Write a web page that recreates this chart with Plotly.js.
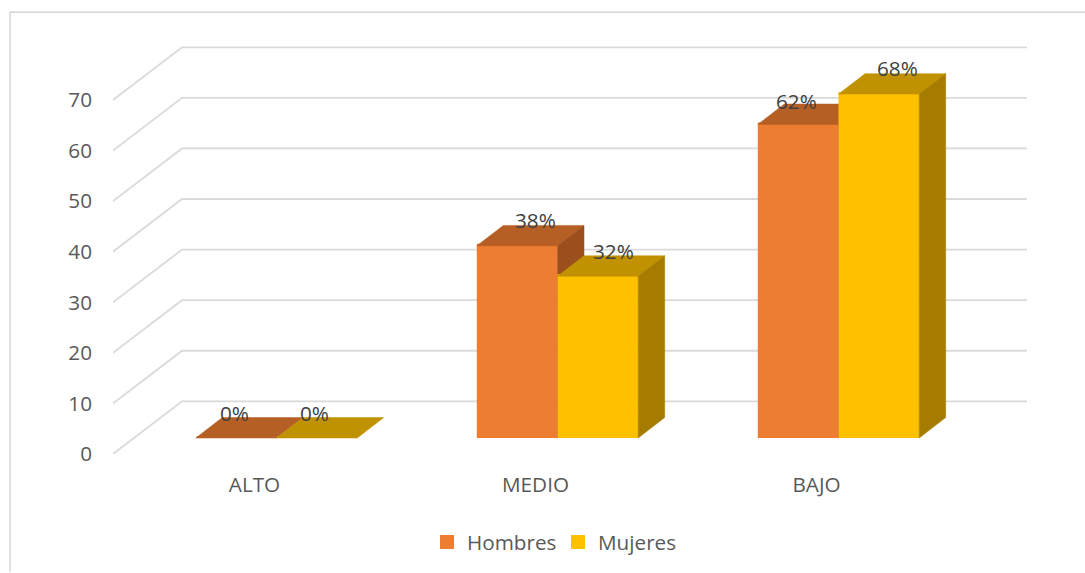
<!DOCTYPE html>
<html>
<head>
<meta charset="utf-8">
<script src="https://cdn.plot.ly/plotly-3.0.1.min.js"></script>
<style>html,body{margin:0;padding:0;background:#fff}#chart{width:1085px;height:573px}</style>
</head>
<body>
<div id="chart"></div>
<script>
// Data
const categories = ['ALTO', 'MEDIO', 'BAJO'];
const hombres = [0, 38, 62];
const mujeres = [0, 32, 68];
const yTicks = [0, 10, 20, 30, 40, 50, 60, 70];

// Colours
const cHombres = {front:'#ED7D31', top:'#B65F25', side:'#9B4F1D'};
const cMujeres = {front:'#FFC000', top:'#C09100', side:'#A67C00'};
const gridColor = '#DADADA';
const tickColor = '#595959';
const labelColor = '#404040';
const FONT = '"Open Sans", sans-serif';
const FS = 20.7;

// Layout geometry
const W = 1085, H = 573;
const pL = 113, pR = 1027, pT = 46, pB = 455;
const pxPerCat = 281, pxPerVal = 5.07, firstCenterPx = 276.5;
const toUnitsX = px => px / pxPerCat;
const toUnitsY = px => px / pxPerVal;
const xRange = [toUnitsX(pL - firstCenterPx), toUnitsX(pR - firstCenterPx)];
const yRange = [0, toUnitsY(pB - pT)];
const barW = toUnitsX(80.7);
const floorY = toUnitsY(16);
const depthX = toUnitsX(26.5), depthY = toUnitsY(20.5);
const wallX = toUnitsX(69), wallY = toUnitsY(52.8);
const strokeW = 2;                        // also sizes the legend swatch
const insetX = toUnitsX(strokeW / 2), insetY = toUnitsY(strokeW / 2);
const idx = categories.map((_, i) => i);

// Label nudges in px (as placed in the reference)
const labelShiftH = [[-2, -25.5], [18.5, -25.5], [-1.5, -23]];
const labelShiftM = [[-2, -25.5], [15.5, -25.5], [19, -26]];

// Back wall + side wall gridlines
const gx = [], gy = [];
yTicks.forEach(v => {
  gx.push(xRange[0], xRange[0] + wallX, xRange[1], null);
  gy.push(v, v + wallY, v + wallY, null);
});

function poly(xs, ys, color, xa, ya) {
  return {type:'scatter', mode:'lines', x:xs, y:ys, fill:'toself', fillcolor:color,
    line:{color:color, width:0.5}, showlegend:false, hoverinfo:'skip', xaxis:xa, yaxis:ya};
}
function series(name, vals, offset, col, xa, ya) {
  const out = [{type:'bar', name:name, x:idx, y:vals, base:idx.map(() => floorY + insetY),
    width:barW - 2 * insetX, offset:offset + insetX,
    marker:{color:col.front, line:{color:col.front, width:strokeW}},
    hoverinfo:'skip', xaxis:xa, yaxis:ya}];
  idx.forEach(i => {
    const l = i + offset, r = l + barW, t = floorY + vals[i];
    out.push(poly([l, r, r + depthX, l + depthX, l], [t, t, t + depthY, t + depthY, t], col.top, xa, ya));
    if (vals[i] > 0) out.push(poly([r, r + depthX, r + depthX, r, r],
      [floorY, floorY + depthY, t + depthY, t, floorY], col.side, xa, ya));
  });
  return out;
}

const traces = [
  {type:'scatter', mode:'lines', x:gx, y:gy, line:{color:gridColor, width:1.8},
   showlegend:false, hoverinfo:'skip', xaxis:'x', yaxis:'y'},
  ...series('Hombres', hombres, -barW, cHombres, 'x2', 'y2'),
  ...series('Mujeres', mujeres, 0, cMujeres, 'x3', 'y3')
];

function dataLabels(vals, offset, shifts, xa, ya) {
  return idx.map(i => ({
    text: vals[i] + '%', x: i + offset + barW / 2, y: floorY + vals[i],
    xref: xa, yref: ya, xshift: shifts[i][0], yshift: -shifts[i][1],
    showarrow: false, xanchor: 'center', yanchor: 'middle',
    font: {family: FONT, size: FS, color: labelColor}
  }));
}

const paperX = px => (px - pL) / (pR - pL);
const paperY = px => (pB - px) / (pB - pT);
const hiddenX = {range:xRange, overlaying:'x', visible:false, fixedrange:true};
const hiddenY = {range:yRange, overlaying:'y', visible:false, fixedrange:true};

const layout = {
  width:W, height:H, paper_bgcolor:'#fff', plot_bgcolor:'rgba(0,0,0,0)',
  margin:{l:pL, r:W - pR, t:pT, b:H - pB, pad:0},
  font:{family:FONT, size:FS, color:tickColor},
  barmode:'overlay', showlegend:true,
  xaxis:{range:xRange, tickmode:'array', tickvals:idx.map(i => i - toUnitsX(22)), ticktext:categories,
    showgrid:false, zeroline:false, showline:false, ticks:'', ticklabelstandoff:16, fixedrange:true,
    tickfont:{family:FONT, size:FS, color:tickColor}},
  yaxis:{range:yRange, tickmode:'array', tickvals:yTicks, ticktext:yTicks.map(String),
    showgrid:false, zeroline:false, showline:false, ticks:'', ticklabelstandoff:20, fixedrange:true,
    tickfont:{family:FONT, size:FS, color:tickColor}},
  xaxis2:{...hiddenX}, yaxis2:{...hiddenY},
  xaxis3:{...hiddenX}, yaxis3:{...hiddenY},
  legend:{orientation:'h', x:paperX(427), y:paperY(542), xanchor:'left', yanchor:'middle',
    entrywidth:86, entrywidthmode:'pixels',
    bgcolor:'rgba(0,0,0,0)', font:{family:FONT, size:FS, color:tickColor}, itemclick:false, itemdoubleclick:false},
  shapes:[
    {type:'line', xref:'paper', yref:'paper', x0:paperX(10), x1:paperX(10), y0:paperY(12), y1:paperY(H),
     line:{color:gridColor, width:1.6}},
    {type:'line', xref:'paper', yref:'paper', x0:paperX(10), x1:paperX(W), y0:paperY(12), y1:paperY(12),
     line:{color:gridColor, width:1.6}}
  ],
  annotations:[
    ...dataLabels(hombres, -barW, labelShiftH, 'x3', 'y3'),
    ...dataLabels(mujeres, 0, labelShiftM, 'x3', 'y3')
  ]
};
Plotly.newPlot('chart', traces, layout, {displayModeBar:false, staticPlot:true});
</script>
</body>
</html>
